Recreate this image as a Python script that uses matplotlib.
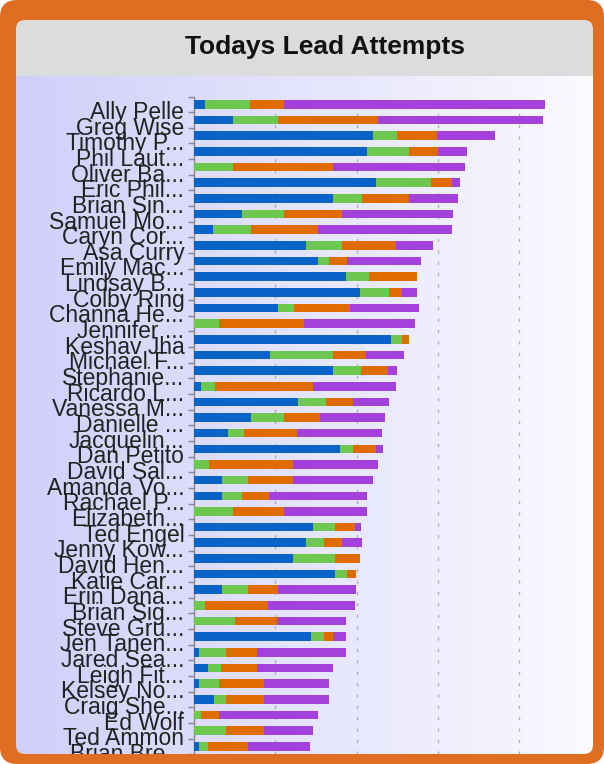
import numpy as np
import matplotlib
matplotlib.use('Agg')
import matplotlib.pyplot as plt
from matplotlib.patches import FancyBboxPatch, Rectangle
from matplotlib.transforms import IdentityTransform, ScaledTranslation

# lead attempts per person, one list per status
names = ['Ally Pelle', 'Greg Wise', 'Timothy P...', 'Phil Laut...', 'Oliver Ba...',
         'Eric Phil...', 'Brian Sin...', 'Samuel Mo...', 'Caryn Cor...', 'Asa Curry',
         'Emily Mac...', 'Lindsay B...', 'Colby Ring', 'Channa He...', 'Jennifer ...',
         'Keshav Jha', 'Michael F...', 'Stephanie...', 'Ricardo L...', 'Vanessa M...',
         'Danielle ...', 'Jacquelin...', 'Dan Petito', 'David Sal...', 'Amanda Vo...',
         'Rachael P...', 'Elizabeth...', 'Ted Engel', 'Jenny Kow...', 'David Hen...',
         'Katie Car...', 'Erin Dana...', 'Brian Sig...', 'Steve Gru...', 'Jen Tanen...',
         'Jared Sea...', 'Leigh Fit...', 'Kelsey No...', 'Craig She...', 'Ed Wolf',
         'Ted Ammon', 'Brian Bre...']
blue = [1.4, 4.8, 22.0, 21.3, 0.0, 22.4, 17.1, 5.9, 2.3, 13.8,
        15.2, 18.7, 20.4, 10.3, 0.0, 24.2, 9.4, 17.1, 0.9, 12.8,
        7.0, 4.2, 18.0, 0.0, 3.4, 3.4, 0.0, 14.6, 13.8, 12.2,
        17.4, 3.4, 0.0, 0.0, 14.4, 0.6, 1.7, 0.6, 2.5, 0.0,
        0.0, 0.6]
green = [5.5, 5.5, 3.0, 5.2, 4.8, 6.8, 3.6, 5.2, 4.7, 4.4,
         1.4, 2.8, 3.6, 2.0, 3.1, 1.4, 7.7, 3.5, 1.7, 3.5,
         4.1, 1.9, 1.6, 1.8, 3.3, 2.5, 4.8, 2.7, 2.2, 5.2,
         1.4, 3.3, 1.4, 5.0, 1.6, 3.3, 1.6, 2.5, 1.4, 0.9,
         3.9, 1.1]
orange = [4.2, 12.4, 4.9, 3.5, 12.3, 2.5, 5.8, 7.1, 8.2, 6.6,
          2.2, 6.0, 1.6, 6.9, 10.4, 0.9, 4.1, 3.3, 12.1, 3.3,
          4.4, 6.6, 2.8, 10.4, 5.5, 3.3, 6.3, 2.5, 2.2, 3.0,
          1.1, 3.6, 7.7, 5.2, 1.1, 3.8, 4.4, 5.5, 4.7, 2.2,
          4.7, 4.9]
purple = [32.1, 20.3, 7.2, 3.6, 16.2, 1.0, 6.0, 13.7, 16.5, 4.6,
          9.1, 0.0, 1.9, 8.5, 13.7, 0.0, 4.6, 1.1, 10.2, 4.4,
          8.0, 10.4, 0.8, 10.4, 9.8, 12.1, 10.2, 0.8, 2.5, 0.0,
          0.0, 9.6, 10.7, 8.5, 1.6, 11.0, 9.4, 8.0, 8.0, 12.1,
          6.0, 7.7]

series = [blue, green, orange, purple]
colors = ['#0A64C8', '#6EC850', '#E06C00', '#A440DC']
frame_color = '#E06E22'

W, H = 604, 764
fig = plt.figure(figsize=(W / 100, H / 100), dpi=100)
fig.patch.set_facecolor('white')

# orange frame (behind everything)
frame = FancyBboxPatch((0, 0), W, H, boxstyle='round,pad=0,rounding_size=17',
                       fc=frame_color, ec='none', transform=IdentityTransform(), zorder=-10)
fig.patches.append(frame)

# inner panel: grey header + lavender gradient
px0, px1, py0, py1 = 16, 593, 20, 754
bg = fig.add_axes([px0 / W, 1 - py1 / H, (px1 - px0) / W, (py1 - py0) / H], zorder=-5)
bg.set_axis_off()
pw, ph = px1 - px0, py1 - py0
left_c = np.array([207, 207, 250]) / 255
right_c = np.array([250, 250, 255]) / 255
t = np.linspace(0, 1, pw)[None, :, None]
img = np.repeat(left_c + (right_c - left_c) * t, ph, axis=0)
img[:56] = np.array([220, 220, 220]) / 255
im = bg.imshow(img, extent=[0, 1, 0, 1], aspect='auto', interpolation='bilinear')
panel = FancyBboxPatch((px0, H - py1), pw, ph, boxstyle='round,pad=0,rounding_size=9',
                       fc='none', ec='none', transform=IdentityTransform())
im.set_clip_path(panel)

fig.text(325 / W, 1 - 47 / H, 'Todays Lead Attempts', ha='center', va='center',
         fontsize=19, fontweight='bold', color='#111111', family='Liberation Sans')

# chart area
top, bottom = 96.5, 754.2
ax = fig.add_axes([194 / W, 1 - bottom / H, (593 - 194) / W, (bottom - top) / H], zorder=0)
ax.patch.set_visible(False)

y = np.arange(len(names))
left = np.zeros(len(names))
for vals, color in zip(series, colors):
    ax.barh(y, vals, left=left, height=0.55, color=color, edgecolor='none', zorder=3)
    left = left + np.array(vals)

ax.set_xlim(0, 399 / 8.125)
ax.set_ylim(len(names) - 0.5, -0.5)
ax.set_xticks([10, 20, 30, 40])
ax.tick_params(axis='x', length=0, labelbottom=False)
ax.xaxis.grid(True, color='#B0B0B0', linewidth=1, linestyle=(0, (2.2, 6)), zorder=1)
ax.set_axisbelow(True)

ax.set_yticks(y)
ax.set_yticklabels(names, fontsize=16.5, family='Liberation Sans', color='#222222')
ax.set_yticks(np.arange(-0.5, len(names), 1), minor=True)
ax.tick_params(axis='y', which='major', length=0, pad=7)
ax.tick_params(axis='y', which='minor', length=4.3, width=1, color='#888888')
off = ScaledTranslation(0, -4 / 72, fig.dpi_scale_trans)
for lab in ax.get_yticklabels():
    lab.set_transform(lab.get_transform() + off)

for s in ['top', 'right', 'bottom']:
    ax.spines[s].set_visible(False)
ax.spines['left'].set_color('#888888')
ax.spines['left'].set_linewidth(1)

# bottom frame edge drawn over the last, cut-off label
fig.patches.append(Rectangle((30, 0), W - 60, H - py1, fc=frame_color, ec='none',
                             transform=IdentityTransform(), zorder=10))

fig.savefig('out.png', dpi=100)
